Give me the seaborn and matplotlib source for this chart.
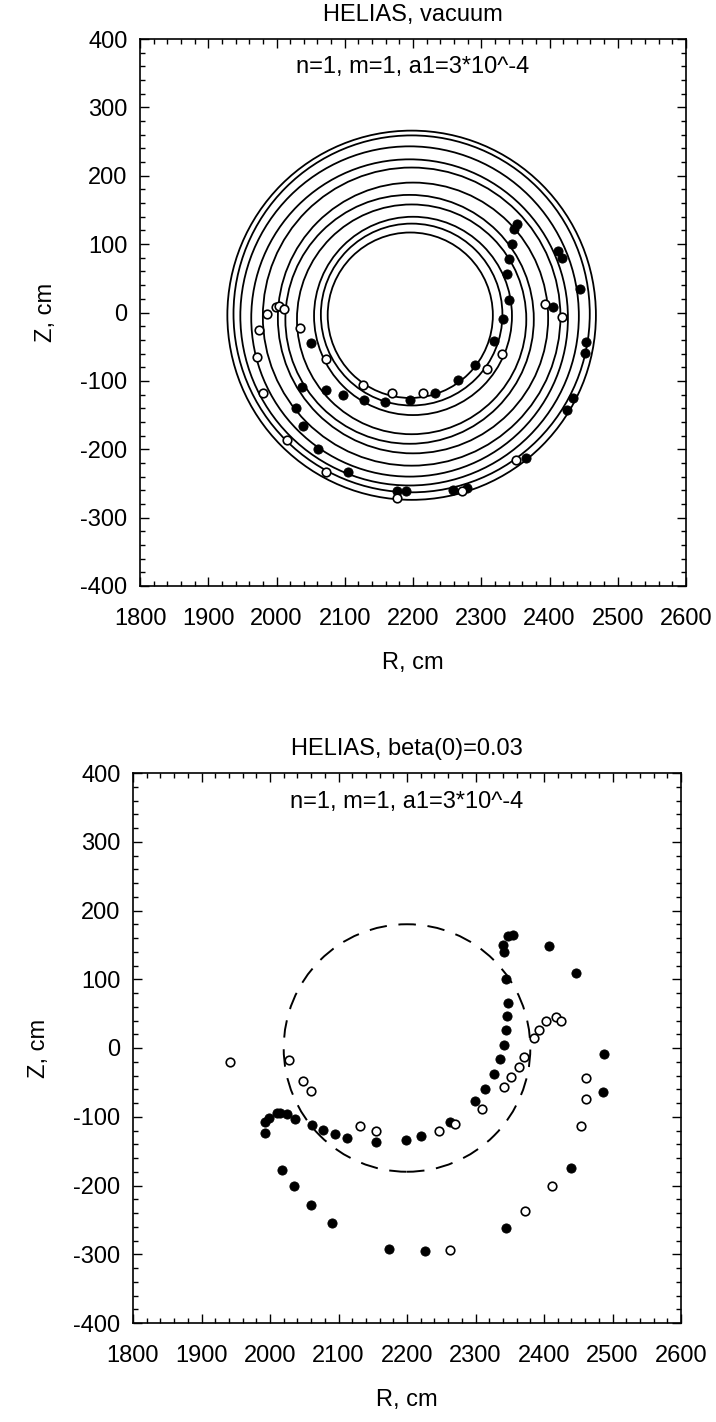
import numpy as np
import pandas as pd
import matplotlib
matplotlib.use("Agg")
import matplotlib.pyplot as plt
from matplotlib.patches import Circle
from matplotlib.ticker import MultipleLocator
import seaborn as sns

# ---------------- data ----------------
# Top panel: traced flux-surface curves (centre R, centre Z, radius), cm
top_circle_R = [2198, 2198, 2195, 2195, 2198, 2200, 2195, 2198, 2200, 2198, 2196]
top_circle_Z = [-4, -2, -5, -8, -6, -8, -10, -10, -5, -3, -4]
top_circle_rad = [270, 261, 248, 232, 218, 198, 182, 168, 145, 133, 121]

# Top panel: filled points
top_filled_R = [2051, 2037, 2028, 2072, 2098, 2232, 2266, 2291, 2340, 2332, 2318,
                2196, 2159, 2128, 2039, 2061, 2105, 2176, 2190, 2258, 2279, 2366,
                2425, 2434, 2452, 2453, 2445, 2405, 2352, 2348, 2345, 2341, 2338,
                2412, 2418]
top_filled_Z = [-45, -109, -140, -114, -121, -118, -99, -77, 19, -10, -42,
                -128, -131, -128, -166, -200, -234, -261, -261, -260, -257, -213,
                -142, -125, -59, -43, 34, 8, 130, 122, 100, 78, 57,
                90, 80]
# Top panel: open points
top_open_R = [1986, 1999, 2004, 2011, 1974, 1971, 1980, 2034, 2073, 2127, 2169,
              2214, 2331, 2309, 2073, 2176, 2272, 2351, 2393, 2418, 2016]
top_open_Z = [-2, 8, 10, 5, -25, -65, -118, -23, -68, -106, -118,
              -118, -61, -83, -234, -272, -261, -216, 12, -6, -187]

# Bottom panel: reference (unperturbed) surface, dashed
bot_circle_R = [2200]
bot_circle_Z = [0]
bot_circle_rad = [180]

# Bottom panel: filled points
bot_filled_R = [1992, 1993, 1998, 2010, 2015, 2025, 2037, 2062, 2077, 2095, 2113,
                2155, 2199, 2221, 2263, 2299, 2314, 2327, 2336, 2341, 2345, 2346,
                2347, 2344, 2341, 2340, 2347, 2355, 2407, 2446, 2487, 2486,
                2018, 2035, 2060, 2090, 2174, 2227, 2345, 2440]
bot_filled_Z = [-123, -108, -102, -95, -94, -96, -103, -112, -119, -125, -131,
                -137, -134, -128, -107, -77, -59, -38, -16, 4, 26, 47,
                66, 101, 139, 150, 163, 165, 148, 109, -9, -64,
                -178, -200, -228, -255, -292, -295, -262, -175]
# Bottom panel: open points
bot_open_R = [1942, 2028, 2048, 2060, 2131, 2155, 2247, 2270, 2309, 2341, 2352,
              2363, 2371, 2386, 2392, 2403, 2417, 2425, 2461, 2461, 2454, 2412,
              2372, 2263]
bot_open_Z = [-21, -18, -48, -62, -113, -121, -120, -111, -88, -56, -42,
              -27, -13, 14, 26, 39, 45, 39, -43, -74, -114, -200,
              -237, -294]

titles = ["HELIAS, vacuum", "HELIAS, beta(0)=0.03"]
annotation = "n=1, m=1, a1=3*10^-4"
x_ticks = [1800, 1900, 2000, 2100, 2200, 2300, 2400, 2500, 2600]
y_ticks = [-400, -300, -200, -100, 0, 100, 200, 300, 400]

# ---------------- figure ----------------
sns.set_theme(style="ticks")
plt.rcParams['font.family'] = ['Liberation Sans', 'DejaVu Sans']
plt.rcParams['axes.edgecolor'] = 'black'
plt.rcParams['axes.unicode_minus'] = False

FS = 17

fig = plt.figure(figsize=(7.16, 14.22), dpi=100)
ax1 = fig.add_axes([140 / 716, 1 - 586 / 1422, 546 / 716, 547 / 1422])
ax2 = fig.add_axes([133 / 716, 1 - 1323 / 1422, 548 / 716, 550 / 1422])


def draw_points(ax, fr, fz, orr, oz):
    sns.scatterplot(x=fr, y=fz, ax=ax, color='black', edgecolor='black',
                    s=44, linewidth=0.6, legend=False, zorder=4)
    sns.scatterplot(x=orr, y=oz, ax=ax, color='white', edgecolor='black',
                    s=38, linewidth=1.2, legend=False, zorder=4)


def style(ax, title):
    ax.set_xlim(1800, 2600)
    ax.set_ylim(-400, 400)
    ax.set_xticks(x_ticks)
    ax.set_yticks(y_ticks)
    ax.xaxis.set_minor_locator(MultipleLocator(20))
    ax.yaxis.set_minor_locator(MultipleLocator(20))
    ax.tick_params(which='both', direction='in', top=True, right=True,
                   width=1.0, color='black', labelcolor='black', labelsize=FS)
    ax.tick_params(which='major', length=6.5)
    ax.tick_params(which='minor', length=3.5)
    ax.tick_params(axis='x', which='both', pad=16)
    ax.tick_params(axis='y', which='both', pad=9)
    for s in ax.spines.values():
        s.set_linewidth(1.2)
        s.set_color('black')
    ax.set_title(title, fontsize=FS, pad=13, color='black')
    ax.set_xlabel('R, cm', fontsize=FS, labelpad=16, color='black')
    ax.set_ylabel('Z, cm', fontsize=FS, labelpad=17, color='black')
    ax.text(0.5, 0.948, annotation, transform=ax.transAxes, ha='center',
            va='center', fontsize=FS, color='black')
    ax.set_facecolor('white')


# top panel
for cr, cz, rad in zip(top_circle_R, top_circle_Z, top_circle_rad):
    ax1.add_patch(Circle((cr, cz), rad, fill=False, edgecolor='black',
                         linewidth=1.3, zorder=2))
draw_points(ax1, top_filled_R, top_filled_Z, top_open_R, top_open_Z)
style(ax1, titles[0])

# bottom panel
for cr, cz, rad in zip(bot_circle_R, bot_circle_Z, bot_circle_rad):
    ax2.add_patch(Circle((cr, cz), rad, fill=False, edgecolor='black',
                         linewidth=1.4, linestyle=(0, (9, 6)), zorder=2))
draw_points(ax2, bot_filled_R, bot_filled_Z, bot_open_R, bot_open_Z)
style(ax2, titles[1])

fig.savefig("out.png", dpi=100, facecolor='white')
